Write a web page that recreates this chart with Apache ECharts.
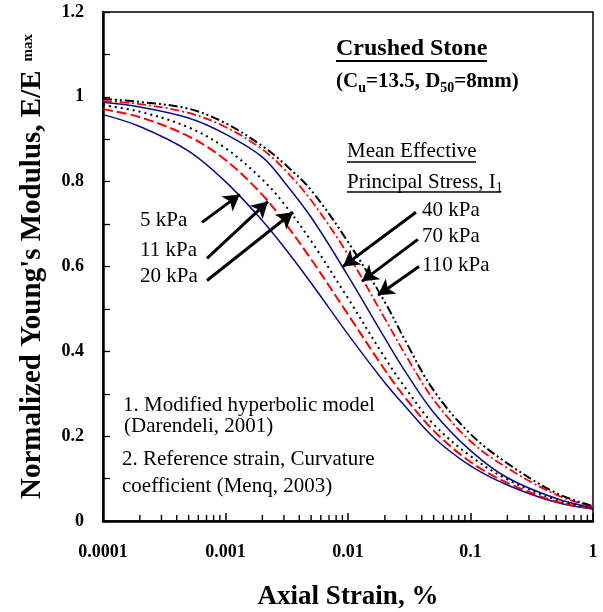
<!DOCTYPE html>
<html>
<head>
<meta charset="utf-8">
<style>
  html, body { margin: 0; padding: 0; background: #fff; }
  #chart { width: 603px; height: 612px; }
</style>
<script src="https://cdn.jsdelivr.net/npm/echarts@6/dist/echarts.min.js"></script>
</head>
<body>
<div id="chart"></div>
<script>
// Axial strain (%) at which each curve is sampled
const strains = [0.0001, 0.0002, 0.0005, 0.001, 0.002, 0.003, 0.005, 0.01, 0.02, 0.03, 0.05, 0.1, 0.2, 0.5, 1];

// Normalized Young's modulus E/Emax for each mean effective principal stress
const kPa5   = [0.958, 0.930, 0.872, 0.800, 0.708, 0.646, 0.561, 0.440, 0.326, 0.267, 0.197, 0.130, 0.085, 0.044, 0.028];
const kPa11  = [0.971, 0.952, 0.907, 0.851, 0.769, 0.706, 0.617, 0.487, 0.356, 0.287, 0.213, 0.139, 0.090, 0.046, 0.029];
const kPa20  = [0.980, 0.965, 0.928, 0.879, 0.805, 0.748, 0.660, 0.525, 0.385, 0.310, 0.228, 0.153, 0.098, 0.050, 0.030];
const kPa40  = [0.987, 0.976, 0.950, 0.912, 0.858, 0.800, 0.716, 0.578, 0.431, 0.348, 0.256, 0.166, 0.102, 0.053, 0.031];
const kPa70  = [0.990, 0.983, 0.962, 0.929, 0.876, 0.830, 0.756, 0.628, 0.477, 0.388, 0.286, 0.188, 0.125, 0.062, 0.033];
const kPa110 = [0.995, 0.988, 0.972, 0.938, 0.884, 0.843, 0.780, 0.658, 0.516, 0.420, 0.308, 0.205, 0.136, 0.066, 0.035];

// Tick labels
const xTickLabels = ['0.0001', '0.001', '0.01', '0.1', '1'];
const xMinorTicks = [];
[0.0001, 0.001, 0.01, 0.1].forEach(function (d) {
  for (let k = 2; k <= 9; k++) xMinorTicks.push(+(d * k).toPrecision(3));
});

// Arrow pointers: [tail, head] in (strain, E/Emax)
const arrow5   = [[0.000643, 0.704], [0.00131, 0.770]];
const arrow11  = [[0.000706, 0.619], [0.00222, 0.753]];
const arrow20  = [[0.000706, 0.567], [0.00356, 0.728]];
const arrow40  = [[0.0359, 0.728], [0.0091, 0.600]];
const arrow70  = [[0.0372, 0.664], [0.0130, 0.565]];
const arrow110 = [[0.0380, 0.600], [0.01758, 0.532]];

const SERIF = '"Liberation Serif", "Times New Roman", serif';

function pairs(vals) { return strains.map(function (s, i) { return [s, vals[i]]; }); }

function arrowLine(a) {
  return [
    { coord: a[0], symbol: 'none' },
    { coord: a[1], symbol: 'arrow', symbolSize: [14, 16] }
  ];
}

function curve(name, vals, color, width, dash, arrows) {
  return {
    name: name,
    type: 'line',
    data: pairs(vals),
    showSymbol: false,
    smooth: 0.35,
    lineStyle: { color: color, width: width, type: dash },
    z: 3,
    markLine: arrows ? {
      silent: true,
      animation: false,
      label: { show: false },
      lineStyle: { color: '#000', width: 3, type: 'solid' },
      data: arrows.map(arrowLine)
    } : undefined
  };
}

const chart = echarts.init(document.getElementById('chart'), null, { renderer: 'canvas' });

const option = {
  animation: false,
  backgroundColor: '#fff',
  grid: {
    left: 103, right: 10, top: 12, bottom: 91,
    containLabel: false,
    outerBoundsMode: 'none',
    show: true, borderColor: '#000', borderWidth: 1.5, backgroundColor: 'transparent'
  },
  xAxis: {
    type: 'log',
    logBase: 10,
    min: 0.0001,
    max: 1,
    name: 'Axial Strain, %',
    nameLocation: 'middle',
    nameGap: 63,
    nameTextStyle: { fontFamily: SERIF, fontWeight: 'bold', fontSize: 27, color: '#000' },
    axisLine: { show: true, lineStyle: { color: '#000', width: 2.5 } },
    axisTick: { show: true, inside: true, length: 8, lineStyle: { color: '#000', width: 1.5 } },
    minorTick: { show: false },
    splitLine: { show: false },
    axisLabel: {
      margin: 22,
      fontFamily: SERIF, fontWeight: 'bold', fontSize: 18, color: '#000',
      formatter: function (v) {
        const i = Math.round(Math.log10(v)) + 4;
        return xTickLabels[i] !== undefined ? xTickLabels[i] : '';
      }
    }
  },
  yAxis: {
    type: 'value',
    min: 0,
    max: 1.2,
    interval: 0.2,
    name: "{a|Normalized Young's Modulus, E/E}{b|max}",
    nameLocation: 'middle',
    nameGap: 56,
    nameRotate: 90,
    nameTextStyle: {
      color: '#000',
      rich: {
        a: { fontFamily: SERIF, fontWeight: 'bold', fontSize: 29, color: '#000' },
        b: { fontFamily: SERIF, fontWeight: 'bold', fontSize: 15, color: '#000', padding: [0, 0, 8, 9] }
      }
    },
    axisLine: { show: true, lineStyle: { color: '#000', width: 2.5 } },
    axisTick: { show: true, inside: true, length: 7, lineStyle: { color: '#000', width: 1.3 } },
    minorTick: { show: true, splitNumber: 2, length: 7, lineStyle: { color: '#000', width: 1.3 } },
    splitLine: { show: false },
    axisLabel: { margin: 19, fontFamily: SERIF, fontWeight: 'bold', fontSize: 18, color: '#000' }
  },
  series: [
    curve('5 kPa', kPa5, '#0a0a8c', 1.5, 'solid', [arrow5, arrow11, arrow20]),
    curve('11 kPa', kPa11, '#ff0000', 2, [10, 4]),
    curve('20 kPa', kPa20, '#000', 2, [2, 4]),
    curve('40 kPa', kPa40, '#0a0a8c', 1.5, 'solid', [arrow40, arrow70, arrow110]),
    curve('70 kPa', kPa70, '#ff0000', 1.8, [9, 3, 2, 3]),
    curve('110 kPa', kPa110, '#000', 2, [9, 3, 2, 3, 2, 3]),
    {
      // log-decade minor ticks along the strain axis
      type: 'custom',
      silent: true,
      clip: false,
      encode: { x: 0, y: 1 },
      data: xMinorTicks.map(function (v) { return [v, 0]; }),
      renderItem: function (params, api) {
        const p = api.coord([api.value(0), api.value(1)]);
        return {
          type: 'line',
          shape: { x1: p[0], y1: p[1], x2: p[0], y2: p[1] - 6 },
          style: { stroke: '#000', lineWidth: 1.4 }
        };
      },
      z: 10
    }
  ],
  graphic: [
    { type: 'text', x: 336, y: 49, style: { text: 'Crushed Stone', font: 'bold 24px ' + SERIF, fill: '#000', verticalAlign: 'middle' } },
    { type: 'line', shape: { x1: 336, y1: 61, x2: 487, y2: 61 }, style: { stroke: '#000', lineWidth: 2 } },
    {
      type: 'text', x: 336, y: 82,
      style: {
        text: '{m|(C}{s|u}{m|=13.5, D}{s|50}{m|=8mm)}',
        fill: '#000', verticalAlign: 'middle',
        rich: {
          m: { font: 'bold 21px ' + SERIF, fill: '#000', verticalAlign: 'bottom' },
          s: { font: 'bold 14px ' + SERIF, fill: '#000', verticalAlign: 'bottom', padding: [0, 0, -3, 0] }
        }
      }
    },
    { type: 'text', x: 347, y: 151, style: { text: 'Mean Effective', font: '21px ' + SERIF, fill: '#000', verticalAlign: 'middle' } },
    { type: 'line', shape: { x1: 347, y1: 162, x2: 476, y2: 162 }, style: { stroke: '#000', lineWidth: 1.5 } },
    {
      type: 'text', x: 347, y: 182,
      style: {
        text: '{m|Principal Stress, I}{s|1}',
        fill: '#000', verticalAlign: 'middle',
        rich: {
          m: { font: '21px ' + SERIF, fill: '#000', verticalAlign: 'bottom' },
          s: { font: '14px ' + SERIF, fill: '#000', verticalAlign: 'bottom', padding: [0, 0, -3, 0] }
        }
      }
    },
    { type: 'line', shape: { x1: 347, y1: 192, x2: 501, y2: 192 }, style: { stroke: '#000', lineWidth: 1.5 } },
    { type: 'text', x: 422, y: 210, style: { text: '40 kPa', font: '21px ' + SERIF, fill: '#000', verticalAlign: 'middle' } },
    { type: 'text', x: 422, y: 236, style: { text: '70 kPa', font: '21px ' + SERIF, fill: '#000', verticalAlign: 'middle' } },
    { type: 'text', x: 422, y: 265, style: { text: '110 kPa', font: '21px ' + SERIF, fill: '#000', verticalAlign: 'middle' } },
    { type: 'text', x: 140, y: 220, style: { text: '5 kPa', font: '21px ' + SERIF, fill: '#000', verticalAlign: 'middle' } },
    { type: 'text', x: 140, y: 250, style: { text: '11 kPa', font: '21px ' + SERIF, fill: '#000', verticalAlign: 'middle' } },
    { type: 'text', x: 140, y: 276, style: { text: '20 kPa', font: '21px ' + SERIF, fill: '#000', verticalAlign: 'middle' } },
    { type: 'text', x: 123, y: 405, style: { text: '1. Modified hyperbolic model', font: '21px ' + SERIF, fill: '#000', verticalAlign: 'middle' } },
    { type: 'text', x: 124, y: 426, style: { text: '(Darendeli, 2001)', font: '21px ' + SERIF, fill: '#000', verticalAlign: 'middle' } },
    { type: 'text', x: 122, y: 459, style: { text: '2. Reference strain, Curvature', font: '21px ' + SERIF, fill: '#000', verticalAlign: 'middle' } },
    { type: 'text', x: 122, y: 486, style: { text: 'coefficient (Menq, 2003)', font: '21px ' + SERIF, fill: '#000', verticalAlign: 'middle' } }
  ]
};

chart.setOption(option);
</script>
</body>
</html>
